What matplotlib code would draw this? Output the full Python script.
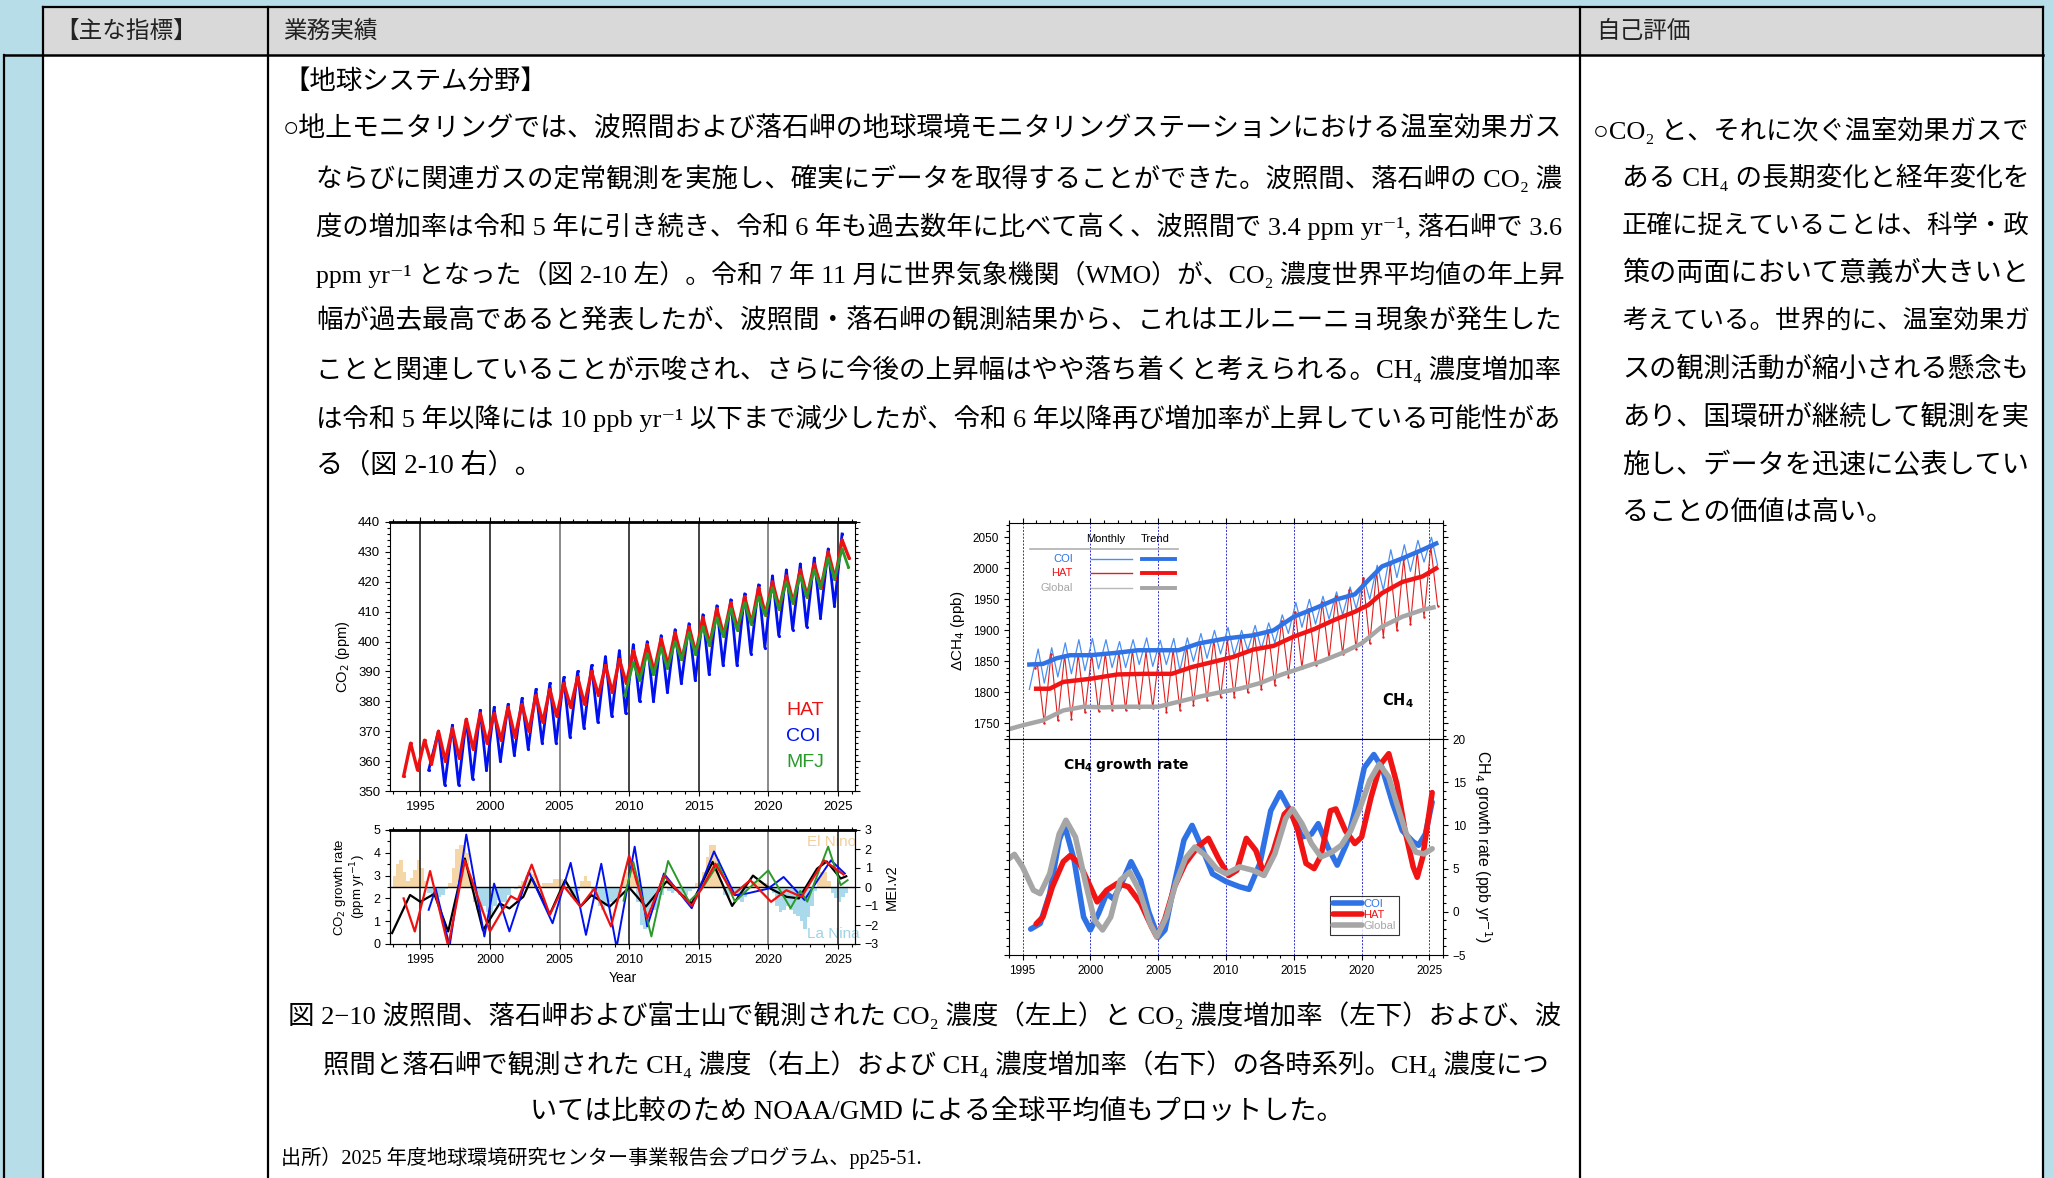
import matplotlib.pyplot as plt
import matplotlib.ticker as mticker
from matplotlib.patches import Rectangle

plt.rcParams['font.family'] = ['Liberation Sans', 'Noto Sans CJK JP', 'DejaVu Sans']

# ---------------- data ----------------
# CO2 concentration (ppm): seasonal maxima (~yr+0.3) and minima (~yr+0.8)
hat_years = list(range(1994, 2026))
hat_peak = [366, 367, 370, 371, 374, 376, 376, 378, 379, 382, 384, 386, 388, 390, 392, 394,
            397, 399, 401, 403, 405, 408, 411, 413, 415, 418, 420, 422, 424, 426, 430, 434]
hat_trough = [357, 359, 360, 361, 364, 366, 367, 368, 370, 373, 375, 378, 379, 382, 383, 386,
              389, 390, 392, 394, 396, 399, 402, 404, 406, 409, 411, 413, 415, 418, 421, 428]
hat_start = (1993.8, 355)

coi_years = list(range(1996, 2026))
coi_peak = [370, 372, 374, 377, 378, 379, 381, 384, 386, 388, 390, 392, 395, 397, 399, 400,
            402, 404, 406, 409, 412, 414, 416, 419, 422, 424, 426, 428, 431, 436]
coi_trough = [352, 352, 354, 357, 360, 362, 364, 366, 366, 368, 371, 373, 375, 376, 380, 380,
              383, 386, 387, 389, 392, 392, 396, 398, 402, 404, 405, 408, 412]
coi_start = (1995.6, 357)

mfj_years = list(range(2010, 2026))
mfj_peak = [393, 396, 398, 400, 403, 405, 408, 411, 413, 415, 418, 420, 422, 424, 428, 431]
mfj_trough = [387, 389, 391, 394, 396, 399, 402, 404, 406, 409, 411, 413, 415, 418, 421, 425]
mfj_start = (2009.7, 382)

# CO2 growth rate (ppm/yr)
glb_gr_t = [1992.97, 1994.26, 1995.0, 1996.0, 1997.0, 1998.2, 1999.5, 2000.7, 2001.4, 2002.4, 2003.0,
            2004.3, 2005.4, 2006.5, 2007.3, 2008.6, 2010.0, 2011.2, 2012.7, 2014.5, 2016.0, 2017.4,
            2018.9, 2020.0, 2021.3, 2022.2, 2023.5, 2024.2, 2025.2, 2025.6]
glb_gr_v = [0.48, 2.15, 1.85, 2.2, 0.55, 3.75, 0.6, 1.78, 1.56, 2.07, 2.9, 1.3, 2.8, 1.64, 2.14, 1.64,
            2.48, 1.64, 2.75, 1.78, 3.6, 1.67, 3.0, 2.48, 2.07, 2.0, 3.3, 3.62, 2.87, 2.97]
hat_gr_t = [1993.8, 1994.6, 1995.7, 1997.0, 1998.2, 2000.0, 2001.5, 2002.0, 2003.0, 2004.3, 2005.3,
            2006.5, 2007.5, 2008.7, 2010.0, 2011.3, 2012.5, 2014.5, 2016.2, 2017.5, 2018.7, 2020.2,
            2021.3, 2022.4, 2024.0, 2025.4]
hat_gr_v = [2.0, 0.55, 3.2, -0.1, 3.67, 0.55, 2.1, 1.93, 3.48, 1.28, 2.54, 1.64, 2.43, 0.77, 3.88,
            1.13, 3.0, 1.67, 3.52, 2.17, 2.8, 1.85, 2.36, 2.07, 3.67, 3.05]
coi_gr_t = [1995.6, 1996.1, 1997.1, 1998.3, 1999.6, 2000.3, 2001.4, 2002.8, 2004.5, 2005.8, 2006.9,
            2008.0, 2009.1, 2010.4, 2011.3, 2012.5, 2014.5, 2016.1, 2017.6, 2018.5, 2020.0, 2021.1,
            2022.6, 2024.5, 2025.5]
coi_gr_v = [1.5, 2.43, -0.1, 4.8, 0.33, 2.65, 0.55, 3.16, 0.91, 3.56, 0.4, 3.52, -0.15, 4.27, 0.77,
            3.09, 1.57, 4.06, 2.14, 2.22, 2.43, 2.94, 1.93, 3.67, 3.09]
mfj_gr_t = [2009.6, 2010.3, 2011.6, 2012.8, 2014.3, 2015.2, 2016.4, 2017.6, 2019.1, 2020.0, 2021.6,
            2022.3, 2022.8, 2024.3, 2025.2, 2025.7]
mfj_gr_v = [1.9, 3.6, 0.33, 3.64, 1.86, 2.39, 3.52, 1.86, 2.72, 3.23, 1.57, 2.33, 1.86, 4.27, 2.58, 2.8]

# MEI.v2 (quarterly, starting 1993.0)
mei_start = 1993.0
mei = [0.6, 1.2, 1.4, 0.8, 0.3, 0.5, 0.9, 1.4, 1.0, 0.3, -0.3, -0.4, -0.5, -0.5, -0.4, -0.1,
       0.2, 1.0, 2.0, 2.2, 2.2, 1.8, 0.5, -0.8, -1.2, -1.3, -1.0, -1.3, -1.4, -1.0, -0.7, -0.8,
       -0.8, -0.4, 0.0, -0.1, 0.1, 0.3, 0.6, 0.8, 0.7, 0.3, 0.05, 0.2, 0.2, 0.2, 0.4, 0.4,
       0.4, 0.3, -0.2, -0.5, -0.5, -0.2, 0.3, 0.6, 0.3, -0.2, -0.6, -1.0, -1.2, -1.0, -0.8, -0.9,
       -0.8, -0.3, 0.4, 0.8, 1.0, 0.6, -0.8, -2.0, -2.2, -1.8, -1.0, -1.2, -1.0, -0.4, 0.05, -0.2,
       -0.3, -0.2, -0.4, -0.3, -0.4, -0.2, -0.1, 0.2, 0.3, 0.8, 1.6, 2.2, 2.2, 1.5, 0.3, -0.4,
       -0.5, -0.2, -0.3, -0.7, -0.8, -0.5, 0.05, 0.3, 0.3, 0.3, 0.2, 0.2, 0.1, -0.3, -1.0, -1.3,
       -1.2, -1.0, -1.2, -1.4, -1.5, -1.8, -2.2, -1.6, -1.0, -0.2, 0.5, 0.8, 0.8, 0.3, -0.3, -0.6,
       -0.8, -0.5, -0.3]

# CH4 concentration (ppb), monthly maxima (~yr+0.1) and minima (~yr+0.6)
ch4_years = list(range(1996, 2026))
coi_ch4_peak = [1870, 1872, 1880, 1885, 1887, 1885, 1882, 1885, 1888, 1884, 1887, 1888, 1895, 1900, 1905,
                1900, 1908, 1912, 1925, 1945, 1950, 1955, 1962, 1970, 1985, 2005, 2030, 2038, 2045, 2050]
coi_ch4_trough = [1815, 1825, 1830, 1835, 1838, 1840, 1840, 1845, 1842, 1845, 1835, 1850, 1855, 1862, 1860,
                  1868, 1870, 1880, 1895, 1905, 1910, 1918, 1925, 1935, 1950, 1965, 1985, 1995, 2010, 2005]
coi_ch4_start = (1995.5, 1805)
hat_ch4_peak = [1845, 1862, 1860, 1862, 1862, 1863, 1866, 1868, 1866, 1868, 1870, 1875, 1880, 1885, 1885,
                1890, 1895, 1900, 1915, 1930, 1935, 1945, 1955, 1965, 1985, 1995, 2005, 2015, 2027, 2035]
hat_ch4_trough = [1750, 1755, 1758, 1768, 1770, 1772, 1772, 1775, 1775, 1769, 1772, 1780, 1788, 1792, 1793,
                  1800, 1805, 1812, 1825, 1840, 1845, 1855, 1862, 1870, 1879, 1890, 1900, 1910, 1922, 1940]
hat_ch4_start = (1995.95, 1840)

# CH4 trends (ppb)
coi_tr_t = [1995.5, 1996.5, 1997.5, 1998.5, 2000, 2002, 2003.5, 2005, 2006.5, 2008, 2010, 2012, 2013.5,
            2015, 2016.5, 2018, 2019.5, 2020.5, 2021.5, 2023, 2024.5, 2025.5]
coi_tr_v = [1845, 1846, 1855, 1860, 1860, 1864, 1868, 1868, 1868, 1879, 1887, 1892, 1900, 1922, 1935,
            1949, 1958, 1981, 2003, 2016, 2030, 2040]
hat_tr_t = [1996, 1997, 1998, 2000, 2002, 2004, 2006, 2007.5, 2009, 2010.5, 2012, 2013.5, 2015, 2016.5,
            2018, 2019.5, 2020.5, 2021.5, 2023, 2024.5, 2025.5]
hat_tr_v = [1806, 1806, 1817, 1822, 1829, 1830, 1830, 1841, 1849, 1857, 1869, 1875, 1890, 1902, 1917,
            1930, 1941, 1960, 1978, 1987, 2000]
glb_tr_t = [1993.7, 1995, 1996.5, 1998, 1999.5, 2001, 2002.5, 2004, 2005, 2006.5, 2008, 2009.5, 2011,
            2012.5, 2014, 2015.5, 2017, 2018.5, 2020, 2021.5, 2023, 2024.5, 2025.3]
glb_tr_v = [1739, 1747, 1755, 1771, 1777, 1776, 1777, 1777, 1777, 1785, 1793, 1800, 1806, 1815, 1828,
            1839, 1850, 1863, 1879, 1906, 1922, 1933, 1937]

# CH4 growth rate (ppb/yr)
coi_ch4gr_t = [1995.6, 1996.3, 1997.0, 1997.7, 1998.1, 1998.8, 1999.5, 2000.0, 2000.6, 2001.2, 2001.7,
               2002.3, 2003.0, 2003.7, 2004.3, 2005.0, 2005.5, 2006.2, 2006.9, 2007.5, 2008.2, 2009.0,
               2010.0, 2011.0, 2011.7, 2012.5, 2013.3, 2014.0, 2014.8, 2015.6, 2016.3, 2016.8, 2017.5,
               2018.2, 2018.9, 2019.5, 2020.2, 2020.9, 2021.5, 2022.3, 2023.0, 2023.8, 2024.2, 2024.7,
               2025.2]
coi_ch4gr_v = [-2.0, -1.35, 2.1, 8.3, 10.0, 6.0, -0.6, -2.1, -0.2, 2.1, 1.5, 3.3, 5.8, 3.65, 0.0, -2.96,
               -2.1, 3.3, 8.3, 10.0, 7.5, 4.4, 3.5, 2.9, 2.6, 5.6, 11.7, 13.8, 11.5, 8.65, 9.0, 10.2,
               7.5, 5.4, 7.9, 11.7, 16.7, 18.2, 16.7, 12.5, 9.4, 8.1, 7.7, 9.0, 12.7]
hat_ch4gr_t = [1996.0, 1996.5, 1997.2, 1998.0, 1998.5, 1999.2, 2000.0, 2000.5, 2001.2, 2002.0, 2002.8,
               2003.7, 2004.5, 2004.9, 2005.5, 2006.2, 2007.0, 2007.9, 2008.7, 2009.5, 2010.2, 2010.8,
               2011.5, 2012.2, 2012.8, 2013.5, 2014.3, 2014.7, 2015.3, 2015.9, 2016.5, 2017.0, 2017.7,
               2018.1, 2018.8, 2019.5, 2020.0, 2020.7, 2021.4, 2022.0, 2022.6, 2023.2, 2023.8, 2024.1,
               2024.5, 2025.2]
hat_ch4gr_v = [-1.4, -0.6, 2.9, 5.8, 6.5, 5.6, 2.9, 1.15, 2.5, 3.3, 2.9, 1.0, -1.7, -2.9, -0.8, 2.9, 5.6,
               7.5, 8.5, 6.0, 4.2, 4.8, 8.5, 7.1, 4.4, 7.1, 11.3, 11.9, 9.4, 5.6, 5.0, 6.5, 11.7, 11.9,
               9.4, 7.9, 8.65, 13.3, 17.1, 18.3, 14.8, 9.4, 5.2, 4.0, 6.3, 13.8]
glb_ch4gr_t = [1994.0, 1994.4, 1995.0, 1995.8, 1996.3, 1997.0, 1997.7, 1998.2, 1998.9, 1999.6, 2000.3,
               2000.9, 2001.5, 2002.2, 2002.9, 2003.6, 2004.4, 2004.9, 2005.6, 2006.3, 2007.0, 2007.7,
               2008.5, 2009.3, 2010.0, 2011.0, 2012.0, 2012.8, 2013.6, 2014.4, 2014.9, 2015.6, 2016.3,
               2017.0, 2017.8, 2018.5, 2019.2, 2019.9, 2020.6, 2021.3, 2022.0, 2022.6, 2023.3, 2024.0,
               2024.6, 2025.2]
glb_ch4gr_v = [6.15, 6.65, 5.2, 2.5, 2.1, 4.4, 9.0, 10.6, 8.65, 3.65, -0.96, -2.1, -0.6, 3.65, 4.6, 2.5,
               -1.35, -2.9, -0.6, 3.3, 6.15, 7.5, 6.5, 5.0, 4.4, 5.2, 4.8, 4.2, 6.7, 10.8, 11.9, 10.2,
               7.9, 6.35, 6.9, 7.7, 9.4, 12.1, 15.2, 17.1, 15.6, 12.5, 9.0, 6.9, 6.7, 7.3]

# ---------------- document text ----------------
header_labels = ['【主な指標】', '業務実績', '自己評価']
section_title = '【地球システム分野】'
body_lines = [
    '○地上モニタリングでは、波照間および落石岬の地球環境モニタリングステーションにおける温室効果ガス',
    'ならびに関連ガスの定常観測を実施し、確実にデータを取得することができた。波照間、落石岬の CO₂ 濃',
    '度の増加率は令和 5 年に引き続き、令和 6 年も過去数年に比べて高く、波照間で 3.4 ppm yr⁻¹, 落石岬で 3.6',
    'ppm yr⁻¹ となった（図 2-10 左）。令和 7 年 11 月に世界気象機関（WMO）が、CO₂ 濃度世界平均値の年上昇',
    '幅が過去最高であると発表したが、波照間・落石岬の観測結果から、これはエルニーニョ現象が発生した',
    'ことと関連していることが示唆され、さらに今後の上昇幅はやや落ち着くと考えられる。CH₄ 濃度増加率',
    'は令和 5 年以降には 10 ppb yr⁻¹ 以下まで減少したが、令和 6 年以降再び増加率が上昇している可能性があ',
    'る（図 2-10 右）。',
]
eval_lines = [
    '○CO₂ と、それに次ぐ温室効果ガスで',
    'ある CH₄ の長期変化と経年変化を',
    '正確に捉えていることは、科学・政',
    '策の両面において意義が大きいと',
    '考えている。世界的に、温室効果ガ',
    'スの観測活動が縮小される懸念も',
    'あり、国環研が継続して観測を実',
    '施し、データを迅速に公表してい',
    'ることの価値は高い。',
]
caption_lines = [
    '図 2−10 波照間、落石岬および富士山で観測された CO₂ 濃度（左上）と CO₂ 濃度増加率（左下）および、波',
    '照間と落石岬で観測された CH₄ 濃度（右上）および CH₄ 濃度増加率（右下）の各時系列。CH₄ 濃度につ',
    'いては比較のため NOAA/GMD による全球平均値もプロットした。',
]
source_line = '出所）2025 年度地球環境研究センター事業報告会プログラム、pp25-51.'


def zigzag(start, years, peaks, troughs, p_off, t_off):
    t, v = [start[0]], [start[1]]
    for i, yr in enumerate(years):
        t.append(yr + p_off)
        v.append(peaks[i])
        if i < len(troughs):
            t.append(yr + t_off)
            v.append(troughs[i])
    return t, v


# ---------------- figure / table ----------------
W, H = 2053, 1178
fig = plt.figure(figsize=(W / 100, H / 100), dpi=100)
fig.patch.set_facecolor('#b7dde8')
renderer = fig.canvas.get_renderer()


def rect(x0, y0, x1, y1):
    return [x0 / W, 1 - y1 / H, (x1 - x0) / W, (y1 - y0) / H]


bg = fig.add_axes([0, 0, 1, 1])
bg.set_xlim(0, W)
bg.set_ylim(H, 0)
bg.axis('off')
bg.add_patch(Rectangle((43, 7), 2000, 48, fc='#d9d9d9', ec='none'))
bg.add_patch(Rectangle((43, 55), 2000, H - 55, fc='white', ec='none'))
for x in [43, 268, 1580, 2043]:
    bg.plot([x, x], [7, H], color='black', lw=1.6)
bg.plot([4, 4], [55, H], color='black', lw=1.6)
bg.plot([43, 2043], [7, 7], color='black', lw=1.6)
bg.plot([4, 2043], [55, 55], color='black', lw=1.8)

JP = ['Noto Sans CJK JP']
BODY = ['Liberation Serif', 'Noto Sans CJK JP', 'DejaVu Serif']
FS = 19.5


def put(x, y, s, fs=FS, x_end=None, ha='left'):
    # x_end given -> scale font so the line fills the column (justified text)
    t = bg.text(x, y, s, fontsize=fs, family=BODY, va='center', ha=ha)
    if x_end is not None:
        w = t.get_window_extent(renderer=renderer).width
        t.set_fontsize(min(fs * (x_end - x) / w, fs * 1.06))
    return t


for x, s in zip([55, 283, 1596], header_labels):
    bg.text(x, 31, s, fontsize=17, family=JP, va='center', color='#222222')

put(283, 81, section_title, fs=19)
for i, s in enumerate(body_lines):
    last = i == len(body_lines) - 1
    put(283 if i == 0 else 316, 130 + 48 * i, s, x_end=None if last else 1565)
for i, s in enumerate(eval_lines):
    last = i == len(eval_lines) - 1
    put(1593 if i == 0 else 1622, 130 + 48 * i, s, x_end=None if last else 2030)
put(288, 1015, caption_lines[0], x_end=1561)
put(323, 1064, caption_lines[1], x_end=1553)
put(937, 1112, caption_lines[2], ha='center')
put(281, 1158, source_line, fs=14.5)

vline_years = [1995, 2000, 2005, 2010, 2015, 2020, 2025]
vline_cols = ['#222222', '#222222', '#777777', '#222222', '#222222', '#777777', '#222222']

# ---------------- CO2 concentration ----------------
ax1 = fig.add_axes(rect(390, 522, 855, 791))
for yr, c in zip(vline_years, vline_cols):
    ax1.axvline(yr, color=c, lw=1.2, zorder=0)
t, v = zigzag(coi_start, coi_years, coi_peak, coi_trough, 0.3, 0.75)
ax1.plot(t, v, color='#0010ee', lw=2.0, marker='.', ms=2.5)
t, v = zigzag(hat_start, hat_years, hat_peak, hat_trough, 0.3, 0.8)
ax1.plot(t, v, color='#ee1111', lw=2.4, marker='.', ms=2.5)
t, v = zigzag(mfj_start, mfj_years, mfj_peak, mfj_trough, 0.3, 0.75)
ax1.plot(t, v, color='#2a9a2a', lw=2.0, marker='.', ms=2.5)
ax1.set_xlim(1992.82, 2026.23)
ax1.set_ylim(350, 440)
ax1.set_xticks(range(1995, 2026, 5))
ax1.set_yticks(range(350, 441, 10))
ax1.xaxis.set_minor_locator(mticker.MultipleLocator(1))
ax1.yaxis.set_minor_locator(mticker.MultipleLocator(2))
ax1.tick_params(which='both', direction='out', top=True, right=True, labelsize=9.5, width=0.8)
ax1.tick_params(which='minor', length=2.5)
ax1.spines['top'].set_linewidth(2)
ax1.set_ylabel('CO$_2$ (ppm)', fontsize=10.5)
ax1.text(2021.3, 376.8, 'HAT', color='#ee1111', fontsize=14, va='center')
ax1.text(2021.3, 368.1, 'COI', color='#0010ee', fontsize=14, va='center')
ax1.text(2021.3, 359.4, 'MFJ', color='#2a9a2a', fontsize=14, va='center')

# ---------------- CO2 growth rate + MEI ----------------
ax2 = fig.add_axes(rect(390, 830, 855, 944))
axm = ax2.twinx()
ax2.set_zorder(axm.get_zorder() + 1)
ax2.patch.set_visible(False)
mei_t = [mei_start + 0.25 * i for i in range(len(mei))]
axm.bar(mei_t, mei, width=0.25, align='edge',
        color=['#f5d6a6' if m > 0 else '#a9d9ea' for m in mei], lw=0)
axm.set_ylim(-3, 3)
axm.set_yticks(range(-3, 4))
axm.tick_params(direction='out', labelsize=9, width=0.8)
axm.set_ylabel('MEI.v2', fontsize=10.5)
axm.text(2022.8, 2.35, 'El Nino', color='#f2cf9c', fontsize=11, va='center')
axm.text(2022.8, -2.5, 'La Nina', color='#9fd3e6', fontsize=11, va='center')
for yr, c in zip(vline_years, vline_cols):
    ax2.axvline(yr, color=c, lw=1.2, zorder=1)
ax2.axhline(2.5, color='black', lw=1.0, zorder=1)
ax2.plot(glb_gr_t, glb_gr_v, color='black', lw=1.6, zorder=3)
ax2.plot(coi_gr_t, coi_gr_v, color='#0010ee', lw=1.4, zorder=3)
ax2.plot(hat_gr_t, hat_gr_v, color='#ee1111', lw=1.6, zorder=4)
ax2.plot(mfj_gr_t, mfj_gr_v, color='#2a9a2a', lw=1.4, zorder=3)
ax2.set_xlim(1992.82, 2026.23)
ax2.set_ylim(0, 5)
ax2.set_xticks(range(1995, 2026, 5))
ax2.set_yticks(range(0, 6))
ax2.xaxis.set_minor_locator(mticker.MultipleLocator(1))
ax2.yaxis.set_minor_locator(mticker.MultipleLocator(0.5))
ax2.tick_params(which='both', direction='out', top=True, labelsize=9, width=0.8)
ax2.tick_params(which='minor', length=2.5)
ax2.spines['top'].set_linewidth(2)
ax2.set_ylabel('CO$_2$ growth rate\n(ppm yr$^{-1}$)', fontsize=9.5, linespacing=1.0)
ax2.set_xlabel('Year', fontsize=10)

# ---------------- CH4 concentration ----------------
ax3 = fig.add_axes(rect(1009, 523, 1443, 739))
for yr in vline_years:
    ax3.axvline(yr, color='#3030d0', lw=0.7, ls=(0, (2, 1.5)), zorder=0)
t, v = zigzag(coi_ch4_start, ch4_years, coi_ch4_peak, coi_ch4_trough, 0.15, 0.6)
ax3.plot(t, v, color='#4a8ff0', lw=0.9)
t, v = zigzag(hat_ch4_start, ch4_years, hat_ch4_peak, hat_ch4_trough, 0.1, 0.6)
ax3.plot(t, v, color='#e02020', lw=0.8, marker='.', ms=1.5)
ax3.plot(glb_tr_t, glb_tr_v, color='#a6a6a6', lw=3.2)
ax3.plot(coi_tr_t, coi_tr_v, color='#2f72e6', lw=3.2)
ax3.plot(hat_tr_t, hat_tr_v, color='#f01414', lw=3.2)
ax3.set_xlim(1994, 2026)
ax3.set_ylim(1725, 2073)
ax3.set_xticks(range(1995, 2026, 5))
ax3.set_yticks(range(1750, 2051, 50))
ax3.xaxis.set_minor_locator(mticker.MultipleLocator(1))
ax3.yaxis.set_minor_locator(mticker.MultipleLocator(10))
ax3.tick_params(which='both', direction='out', top=True, right=True, labelbottom=False,
                labelsize=8.5, width=0.8)
ax3.tick_params(which='minor', length=2.5)
ax3.set_ylabel('ΔCH$_4$ (ppb)', fontsize=11)
# hand-built legend: Monthly / Trend columns
ax3.text(0.223, 0.925, 'Monthly', transform=ax3.transAxes, fontsize=8, ha='center', va='center')
ax3.text(0.336, 0.925, 'Trend', transform=ax3.transAxes, fontsize=8, ha='center', va='center')
ax3.plot([0.048, 0.389], [0.878, 0.878], transform=ax3.transAxes, color='#b0b0b0', lw=1.2)
for yy, lab, cm, ct in [(0.832, 'COI', '#4a8ff0', '#2f72e6'),
                        (0.767, 'HAT', '#e02020', '#f01414'),
                        (0.698, 'Global', '#b8b8b8', '#a6a6a6')]:
    ax3.text(0.147, yy, lab, transform=ax3.transAxes, fontsize=8, ha='right', va='center', color=ct)
    ax3.plot([0.189, 0.283], [yy, yy], transform=ax3.transAxes, color=cm, lw=1.0)
    ax3.plot([0.306, 0.382], [yy, yy], transform=ax3.transAxes, color=ct, lw=2.8)
ax3.text(0.895, 0.179, r'$\mathbf{CH_4}$', transform=ax3.transAxes, fontsize=10.5,
         ha='center', va='center')

# ---------------- CH4 growth rate ----------------
ax4 = fig.add_axes(rect(1009, 739, 1443, 955))
for yr in vline_years:
    ax4.axvline(yr, color='#3030d0', lw=0.7, ls=(0, (2, 1.5)), zorder=0)
ax4.plot(coi_ch4gr_t, coi_ch4gr_v, color='#2f72e6', lw=4, label='COI', solid_capstyle='round')
ax4.plot(hat_ch4gr_t, hat_ch4gr_v, color='#f01414', lw=4, label='HAT', solid_capstyle='round')
ax4.plot(glb_ch4gr_t, glb_ch4gr_v, color='#a6a6a6', lw=4, label='Global', solid_capstyle='round')
ax4.set_xlim(1994, 2026)
ax4.set_ylim(-5, 20)
ax4.set_xticks(range(1995, 2026, 5))
ax4.set_yticks(range(-5, 21, 5))
ax4.xaxis.set_minor_locator(mticker.MultipleLocator(1))
ax4.yaxis.set_minor_locator(mticker.MultipleLocator(1))
ax4.tick_params(which='both', direction='out', right=True, labelleft=False, labelright=True,
                labelsize=8.5, width=0.8)
ax4.tick_params(which='minor', length=2.5)
ax4.yaxis.set_label_position('right')
ax4.set_ylabel('CH$_4$ growth rate (ppb yr$^{-1}$)', fontsize=11.5, rotation=270, labelpad=20)
ax4.text(0.124, 0.878, r'$\mathbf{CH_4}$ $\mathbf{growth\ rate}$', transform=ax4.transAxes,
         fontsize=10, va='center')
leg = ax4.legend(loc='lower left', bbox_to_anchor=(0.727, 0.069), fontsize=8, frameon=True,
                 fancybox=False, edgecolor='black', handlelength=2.6, borderpad=0.3,
                 labelspacing=0.1, handletextpad=0.1, labelcolor='linecolor')
leg.get_frame().set_linewidth(0.8)

fig.savefig('out.png', dpi=100, facecolor=fig.get_facecolor())
